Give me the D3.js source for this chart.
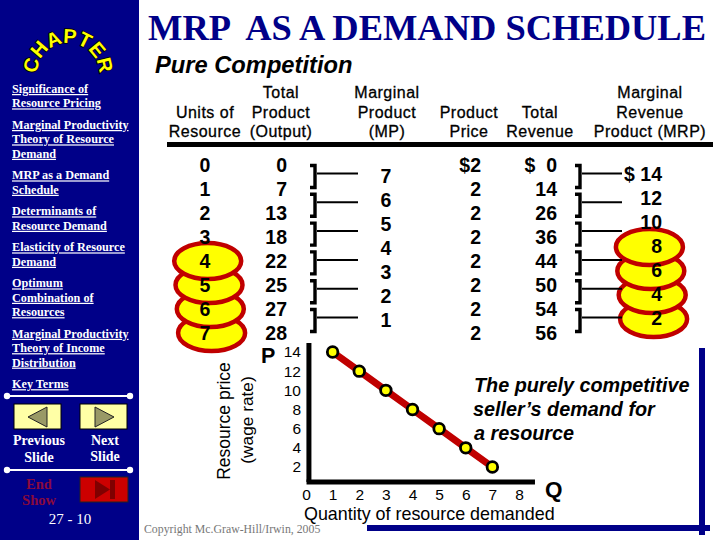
<!DOCTYPE html>
<html><head><meta charset="utf-8">
<script src="https://cdn.jsdelivr.net/npm/d3@7/dist/d3.min.js"></script>
<style>html,body{margin:0;padding:0;background:#fff}svg{display:block}</style>
</head><body><svg id="c" width="720" height="540"></svg>
<script>
const units=[0,1,2,3,4,5,6,7];
const totalProduct=[0,7,13,18,22,25,27,28];
const marginalProduct=[7,6,5,4,3,2,1];
const productPrice=[2,2,2,2,2,2,2,2];
const totalRevenue=[0,14,26,36,44,50,54,56];
const mrpValues=[14,12,10,8,6,4,2];
const quantity=[1,2,3,4,5,6,7];
const xTicks=[0,1,2,3,4,5,6,7,8];
const yTicks=[2,4,6,8,10,12,14];
const bracketRows=[0,1,2,3,4,5];
const navGroups=[["Significance of","Resource Pricing"],["Marginal Productivity","Theory of Resource","Demand"],["MRP as a Demand","Schedule"],["Determinants of","Resource Demand"],["Elasticity of Resource","Demand"],["Optimum","Combination of","Resources"],["Marginal Productivity","Theory of Income","Distribution"],["Key Terms"]];
const headerUnits=["","Units of","Resource"];
const headerOutput=["Total","Product","(Output)"];
const headerMP=["Marginal","Product","(MP)"];
const headerPrice=["","Product","Price"];
const headerRevenue=["","Total","Revenue"];
const headerMRP=["Marginal","Revenue","Product (MRP)"];
const leftCoinUnits=[7,6,5,4];
const rightCoinValues=[2,4,6,8];

const svg=d3.select("#c");
const NAVY="#000088",RED="#c00000",YEL="#ffff00";
const SANS="'Liberation Sans',Arial,sans-serif",SERIF="'Liberation Serif','Times New Roman',serif";
const T=(s,x,y,o={})=>svg.append("text").attr("x",x).attr("y",y).text(s)
  .attr("font-family",o.f||SANS).attr("font-size",o.s||19).attr("font-weight",o.w||"normal")
  .attr("font-style",o.i||"normal").attr("fill",o.c||"#000").attr("text-anchor",o.a||"start")
  .attr("text-decoration",o.u?"underline":null).style("white-space","pre");

// sidebar
svg.append("rect").attr("width",139).attr("height",540).attr("fill",NAVY);
svg.append("path").attr("id","arc").attr("d","M37,74 A31,31 0 0 1 99,74").attr("fill","none");
svg.append("text").attr("font-family",SANS).attr("font-weight","bold").attr("font-size",20)
  .attr("fill",YEL).attr("stroke","#000").attr("stroke-width",1.6).style("paint-order","stroke").attr("text-anchor","middle")
  .append("textPath").attr("href","#arc").attr("startOffset","50%").text("CHAPTER");
let navY=93;
navGroups.forEach(g=>{
  g.forEach((t,i)=>{T(t,12,navY,{f:SERIF,s:12.2,w:"bold",c:"#fff",u:true});if(i<g.length-1)navY+=14.4;});
  navY+=21.6;
});
[396,470].forEach(y=>{
  svg.append("line").attr("x1",7).attr("x2",130).attr("y1",y).attr("y2",y).attr("stroke","#fff").attr("stroke-width",2);
  [7,130].forEach(x=>svg.append("circle").attr("cx",x).attr("cy",y).attr("r",3.2).attr("fill","#fff"));
});
[[14,"M28,417L47,407L47,427Z"],[80,"M95,407L95,427L114,417Z"]].forEach(([x,d])=>{
  svg.append("rect").attr("x",x).attr("y",404).attr("width",47).attr("height",25).attr("fill","#ffffa6").attr("stroke","#000").attr("stroke-width",1);
  svg.append("path").attr("d",d).attr("fill","#999966").attr("stroke","#222").attr("stroke-width",1);
});
T("Previous",39,445,{f:SERIF,s:14,w:"bold",c:"#fff",a:"middle"});
T("Slide",39,462,{f:SERIF,s:14,w:"bold",c:"#fff",a:"middle"});
T("Next",105,445,{f:SERIF,s:14,w:"bold",c:"#fff",a:"middle"});
T("Slide",105,461,{f:SERIF,s:14,w:"bold",c:"#fff",a:"middle"});
T("End",39,489,{f:SERIF,s:14.5,w:"bold",c:"#8a0a3c",a:"middle"});
T("Show",39,505,{f:SERIF,s:14.5,w:"bold",c:"#8a0a3c",a:"middle"});
svg.append("rect").attr("x",80).attr("y",477).attr("width",48).attr("height",25).attr("fill","#cc0000").attr("stroke","#222").attr("stroke-width",1);
svg.append("path").attr("d","M95,480L95,499L110,489.5Z").attr("fill","#800000");
svg.append("rect").attr("x",110).attr("y",480).attr("width",5).attr("height",19).attr("fill","#800000");
T("27 - 10",70,524,{f:SERIF,s:15,c:"#fff",a:"middle"});

// page furniture
svg.append("rect").attr("x",367).attr("y",525).attr("width",343).attr("height",6).attr("fill",NAVY);
svg.append("rect").attr("x",699).attr("y",348).attr("width",6).attr("height",187).attr("fill",NAVY);
T("MRP  AS A DEMAND SCHEDULE",148,40,{f:SERIF,s:36,w:"bold",c:NAVY}).attr("textLength",558).attr("lengthAdjust","spacingAndGlyphs");
T("Pure Competition",155,73,{s:23.7,w:"bold",i:"italic"});
[[headerUnits,205],[headerOutput,281],[headerMP,387],[headerPrice,469],[headerRevenue,540],[headerMRP,650]].forEach(([col,cx])=>
  col.forEach((t,i)=>T(t,cx,[98,118,137][i],{s:16,a:"middle"}).attr("letter-spacing",.5).attr("stroke","#000").attr("stroke-width",.3)));
svg.append("rect").attr("x",167).attr("y",142).attr("width",546).attr("height",5).attr("fill","#000");

// table scales
const rowY=d3.scaleLinear().domain([0,7]).range([172,340]);
const midY=d3.scaleLinear().domain([0,6]).range([183,327]);
const mrpY=d3.scaleLinear().domain([0,6]).range([181,325]);

// coins
const coin=(x,y)=>svg.append("ellipse").attr("cx",x).attr("cy",y).attr("rx",33.5).attr("ry",18).attr("fill",YEL).attr("stroke",RED).attr("stroke-width",4.5);
leftCoinUnits.forEach(u=>coin(202.5+u*1.3,rowY(u)-7));
rightCoinValues.forEach(v=>coin(655-v*0.7,mrpY(mrpValues.indexOf(v))-6));

// table
const num={s:19.5,w:"bold"};
units.forEach((v,i)=>T(v,205,rowY(i),{...num,a:"middle"}));
totalProduct.forEach((v,i)=>T(v,287,rowY(i),{...num,a:"end"}));
marginalProduct.forEach((v,i)=>T(v,386,midY(i),{...num,a:"middle"}));
productPrice.forEach((v,i)=>T(i?v:"$"+v,481,rowY(i),{...num,a:"end"}));
totalRevenue.forEach((v,i)=>T(i?v:"$  "+v,557,rowY(i),{...num,a:"end"}));
mrpValues.forEach((v,i)=>T(i?v:"$ "+v,662,mrpY(i),{...num,a:"end"}));

// brackets
const brY=d3.scaleLinear().domain([0,5]).range([164,308]);
[[317,358],[582,622]].forEach(([bx,ex])=>bracketRows.forEach(i=>{
  const y=brY(i);
  svg.append("path").attr("fill","none").attr("stroke","#000").attr("stroke-width",3.4)
    .attr("d",`M${bx-7},${y+1.5}H${bx-2}V${y+23.5}H${bx-7}`);
  svg.append("line").attr("x1",bx).attr("x2",ex).attr("y1",y+9.5).attr("y2",y+9.5).attr("stroke","#000").attr("stroke-width",2);
}));

// graph
const x=d3.scaleLinear().domain([0,8]).range([306,519]);
const y=d3.scaleLinear().domain([2,14]).range([467,352]);
const axX=g=>{g.call(d3.axisBottom(x).tickValues(xTicks).tickSize(0).tickPadding(0).tickFormat(d3.format("d")));
  g.select(".domain").remove();g.selectAll("text").attr("font-family",SANS).attr("font-size",15.5).attr("fill","#000").attr("dy",0).attr("y",18);};
svg.append("g").attr("transform","translate(0,482)").call(axX);
const axY=g=>{g.call(d3.axisLeft(y).tickValues(yTicks).tickSize(0).tickPadding(8).tickFormat(d3.format("d")));
  g.select(".domain").remove();g.selectAll("text").attr("font-family",SANS).attr("font-size",15.5).attr("fill","#000");};
svg.append("g").attr("transform","translate(309,0)").call(axY);
svg.append("line").attr("x1",x(0.11)).attr("x2",x(0.11)).attr("y1",y(14.94)).attr("y2",y(0.43)).attr("stroke","#000").attr("stroke-width",5);
svg.append("line").attr("x1",x(0.02)).attr("x2",x(8.6)).attr("y1",y(0.43)).attr("y2",y(0.43)).attr("stroke","#000").attr("stroke-width",5);
const pts=quantity.map((q,i)=>[q,mrpValues[i]]);
svg.append("path").attr("d",d3.line().x(d=>x(d[0])).y(d=>y(d[1]))(pts)).attr("fill","none").attr("stroke",RED).attr("stroke-width",7);
svg.selectAll(".pt").data(pts).join("circle").attr("class","pt").attr("cx",d=>x(d[0])).attr("cy",d=>y(d[1])).attr("r",5.3).attr("fill",YEL).attr("stroke","#000").attr("stroke-width",2.8);

T("P",261,363,{s:21.5,w:"bold"});
T("Q",545,497,{s:22.5,w:"bold"});
T("Quantity of resource demanded",304,520,{s:17.9});
T("Resource price",0,0,{s:17.5,a:"middle"}).attr("transform","translate(230,421) rotate(-90)");
T("(wage rate)",0,0,{s:17.3,a:"middle"}).attr("transform","translate(253,420) rotate(-90)");
T("The purely competitive",474,392,{s:19.8,w:"bold",i:"italic"});
T("seller\u2019s demand for",473,416,{s:19.8,w:"bold",i:"italic"});
T("a resource",474,440,{s:19.8,w:"bold",i:"italic"});
T("Copyright Mc.Graw-Hill/Irwin, 2005",144,533,{f:SERIF,s:11.8,c:"#777"});
</script></body></html>
